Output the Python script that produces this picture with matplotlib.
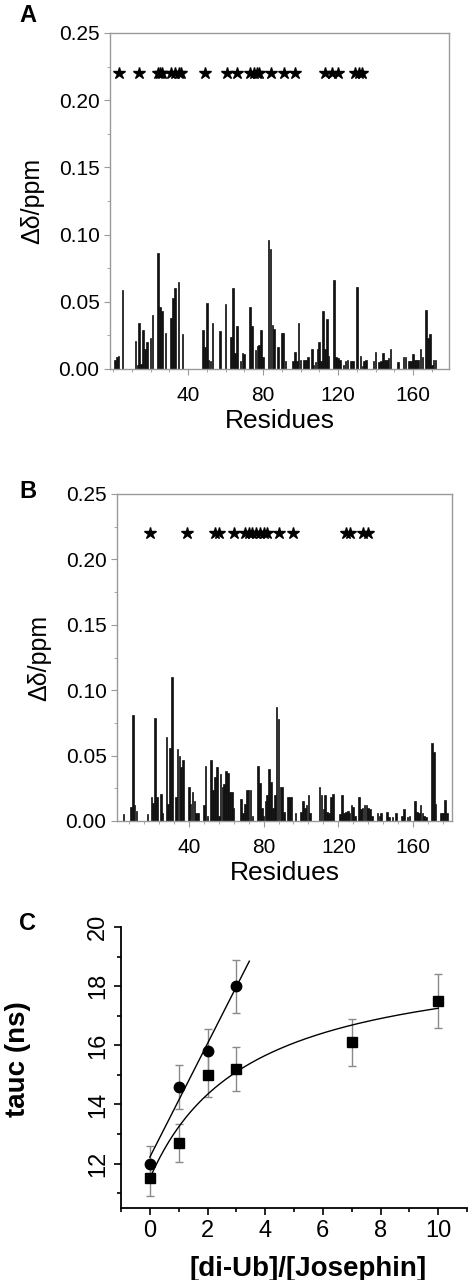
import numpy as np
import matplotlib
matplotlib.use("Agg")
import matplotlib.pyplot as plt
from matplotlib.ticker import MultipleLocator

plt.rcParams['font.family'] = ['Liberation Sans', 'DejaVu Sans']

# Panel A: chemical shift perturbations per residue
res_a = [1, 2, 3, 5, 12, 13, 14, 15, 16, 17, 18, 20, 21, 24, 25, 26, 28, 31, 32, 33, 35, 37,
         48, 49, 50, 51, 52, 53, 57, 60, 63, 64, 65, 66, 68, 69, 70, 73, 74, 76, 77, 78, 79, 80,
         83, 84, 85, 86, 88, 90, 91, 92, 96, 97, 98, 99, 100, 102, 103, 104, 106, 107, 108, 109,
         110, 111, 112, 113, 114, 115, 118, 119, 120, 121, 123, 124, 125, 127, 128, 130, 132,
         133, 134, 135, 139, 140, 142, 143, 144, 145, 146, 147, 148, 152, 155, 156, 158, 159,
         160, 161, 162, 163, 164, 165, 167, 168, 169, 170, 171, 172]
val_a = [0.007, 0.009, 0.010, 0.059, 0.021, 0.003, 0.034, 0.004, 0.029, 0.015, 0.020, 0.023,
         0.040, 0.086, 0.046, 0.043, 0.027, 0.038, 0.053, 0.060, 0.065, 0.026,
         0.029, 0.016, 0.049, 0.007, 0.006, 0.034, 0.028, 0.048, 0.024, 0.060, 0.012, 0.032,
         0.006, 0.012, 0.011, 0.046, 0.032, 0.014, 0.017, 0.018, 0.029, 0.009,
         0.096, 0.089, 0.033, 0.030, 0.016, 0.027, 0.027, 0.006, 0.006, 0.013, 0.006, 0.034,
         0.007, 0.007, 0.007, 0.009, 0.015, 0.003, 0.005, 0.015, 0.020, 0.006, 0.043, 0.015,
         0.037, 0.010, 0.066, 0.009, 0.008, 0.007, 0.003, 0.006, 0.007, 0.006, 0.006, 0.061,
         0.010, 0.002, 0.006, 0.007, 0.006, 0.013, 0.005, 0.006, 0.012, 0.007, 0.007, 0.008,
         0.015, 0.005, 0.009, 0.009, 0.006, 0.006, 0.011, 0.007, 0.007, 0.007, 0.015, 0.009,
         0.044, 0.023, 0.026, 0.003, 0.007, 0.007]
stars_a = [3, 14, 24, 25, 26, 31, 33, 35, 36, 49, 61, 66, 73, 75, 77, 78, 84, 91, 97,
           113, 117, 120, 129, 131, 133]

# Panel B
res_b = [5, 9, 10, 11, 12, 18, 20, 21, 22, 23, 25, 26, 28, 29, 30, 31, 33, 34, 35, 36, 37,
         40, 41, 42, 43, 44, 45, 48, 49, 50, 52, 53, 54, 55, 56, 57, 58, 59, 60, 61, 62, 63, 64,
         68, 69, 70, 71, 72, 73, 74, 77, 78, 79, 80, 81, 82, 83, 84, 85, 86, 87, 88, 89, 90, 91,
         93, 94, 95, 97, 100, 101, 102, 103, 104, 105, 110, 111, 112, 113, 114, 115, 116, 117,
         121, 122, 123, 124, 125, 126, 127, 128, 129, 131, 132, 133, 134, 135, 136, 137, 138,
         141, 142, 143, 146, 147, 149, 151, 154, 155, 157, 158, 161, 162, 163, 164, 165, 166,
         167, 170, 171, 172, 175, 176, 177, 178]
val_b = [0.005, 0.011, 0.081, 0.012, 0.008, 0.005, 0.018, 0.014, 0.079, 0.018, 0.021, 0.006,
         0.064, 0.013, 0.056, 0.110, 0.018, 0.055, 0.050, 0.041, 0.047,
         0.026, 0.013, 0.022, 0.015, 0.006, 0.006, 0.012, 0.042, 0.004, 0.047, 0.024, 0.034,
         0.041, 0.004, 0.036, 0.026, 0.028, 0.038, 0.037, 0.022, 0.022, 0.010,
         0.017, 0.006, 0.013, 0.024, 0.024, 0.024, 0.004, 0.042, 0.029, 0.010, 0.004, 0.015,
         0.020, 0.040, 0.030, 0.010, 0.020, 0.087, 0.078, 0.026, 0.026, 0.007,
         0.018, 0.018, 0.018, 0.006, 0.007, 0.015, 0.010, 0.012, 0.020, 0.006, 0.026, 0.020,
         0.009, 0.020, 0.007, 0.006, 0.018, 0.021,
         0.005, 0.020, 0.006, 0.007, 0.008, 0.006, 0.012, 0.011, 0.004, 0.018, 0.009, 0.010,
         0.012, 0.012, 0.010, 0.009, 0.004,
         0.006, 0.004, 0.006, 0.007, 0.003, 0.003, 0.006, 0.004, 0.009, 0.003, 0.004, 0.015,
         0.007, 0.006, 0.012, 0.006, 0.004,
         0.003, 0.060, 0.053, 0.013, 0.006, 0.006, 0.016, 0.006]
stars_b = [19, 39, 54, 56, 64, 70, 72, 74, 76, 78, 80, 82, 88, 96, 124, 126, 133, 136]
star_level = 0.22

# Panel C: tauc vs [di-Ub]/[Josephin]
ratio_circ = [0, 1, 2, 3]
tauc_circ = [12.0, 14.6, 15.8, 18.0]
err_circ = [0.6, 0.75, 0.75, 0.9]
ratio_sq = [0, 1, 2, 3, 7, 10]
tauc_sq = [11.5, 12.7, 15.0, 15.2, 16.1, 17.5]
err_sq = [0.6, 0.65, 0.75, 0.75, 0.8, 0.9]
# hyperbolic fit parameters for the squares (y0 + A*x/(K+x))
fit_y0, fit_A, fit_K = 11.5, 7.73, 3.44

fig = plt.figure(figsize=(4.68, 12.8), dpi=100)
W, H = 468, 1280


def box(l, t, r, b):
    return [l / W, 1 - b / H, (r - l) / W, (b - t) / H]


frame_col = '#9a9a9a'


def shift_panel(ax, res, val, stars, xlim, xminor):
    ax.bar(res, val, width=0.9, color='#111111', edgecolor='#111111', linewidth=0.5)
    ax.plot(stars, [star_level] * len(stars), linestyle='none', marker='*',
            markersize=9, color='black')
    ax.set_xlim(*xlim)
    ax.set_ylim(0, 0.25)
    ax.set_xticks([40, 80, 120, 160])
    ax.xaxis.set_minor_locator(MultipleLocator(xminor))
    ax.set_yticks([0, 0.05, 0.10, 0.15, 0.20, 0.25])
    ax.set_yticklabels(['0.00', '0.05', '0.10', '0.15', '0.20', '0.25'])
    ax.yaxis.set_minor_locator(MultipleLocator(0.025))
    for s in ax.spines.values():
        s.set_color(frame_col)
        s.set_linewidth(1.0)
    ax.tick_params(axis='both', which='major', labelsize=15, color=frame_col,
                   length=4, direction='out')
    ax.tick_params(axis='both', which='minor', color=frame_col, length=2.5, direction='out')
    ax.tick_params(axis='x', pad=8)
    ax.set_xlabel('Residues', fontsize=19, labelpad=3)
    ax.set_ylabel('Δδ/ppm', fontsize=18, labelpad=10)


axA = fig.add_axes(box(110, 33, 449, 369))
shift_panel(axA, res_a, val_a, stars_a, (-1.6, 179.2), 10)
axB = fig.add_axes(box(117, 494, 452, 821))
shift_panel(axB, res_b, val_b, stars_b, (1.6, 180.8), 8)

axC = fig.add_axes(box(121, 927, 467, 1208))
axC.errorbar(ratio_circ, tauc_circ, yerr=err_circ, fmt='o', color='black', markersize=7.5,
             ecolor='#8a8a8a', elinewidth=1, capsize=3)
axC.errorbar(ratio_sq, tauc_sq, yerr=err_sq, fmt='s', color='black', markersize=6.5,
             ecolor='#8a8a8a', elinewidth=1, capsize=3)
slope, icpt = np.polyfit(ratio_circ, tauc_circ, 1)
xl = np.array([0, 3.45])
axC.plot(xl, icpt + slope * xl, color='black', linewidth=1)
xh = np.linspace(0.05, 10, 200)
axC.plot(xh, fit_y0 + fit_A * xh / (fit_K + xh), color='black', linewidth=1)
axC.set_xlim(-1, 11)
axC.set_ylim(10.5, 20)
axC.set_xticks([0, 2, 4, 6, 8, 10])
axC.xaxis.set_minor_locator(MultipleLocator(1))
axC.set_yticks([12, 14, 16, 18, 20])
axC.yaxis.set_minor_locator(MultipleLocator(1))
axC.spines['top'].set_visible(False)
axC.spines['right'].set_visible(False)
for s in ('left', 'bottom'):
    axC.spines[s].set_linewidth(1.3)
axC.tick_params(axis='both', which='major', labelsize=17, length=5, width=1.2)
axC.tick_params(axis='both', which='minor', length=3, width=1.2)
for lab in axC.get_yticklabels():
    lab.set_rotation(90)
    lab.set_va('center')
axC.set_xlabel('[di-Ub]/[Josephin]', fontsize=20, fontweight='bold', labelpad=8)
axC.xaxis.set_label_coords(0.54, -0.17)
axC.set_ylabel('tauc (ns)', fontsize=20, fontweight='bold', labelpad=8)
axC.yaxis.set_label_coords(-0.26, 0.53)

for letter, (x, y) in {'A': (28, 15), 'B': (28, 492), 'C': (28, 923)}.items():
    fig.text(x / W, 1 - y / H, letter, fontsize=17, fontweight='bold', ha='center', va='center')

fig.savefig('out.png', dpi=100)
